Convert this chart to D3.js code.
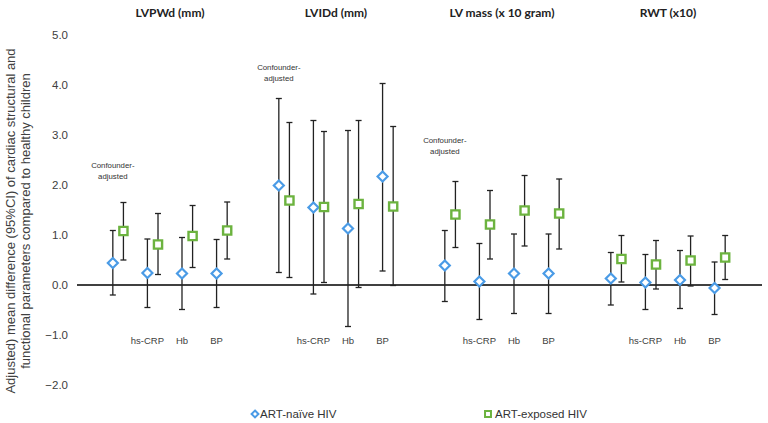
<!DOCTYPE html>
<html><head><meta charset="utf-8">
<script src="https://cdn.jsdelivr.net/npm/d3@7"></script>
<style>body{margin:0;background:#fff}svg{display:block}</style>
</head><body>
<svg id="chart" width="768" height="423"></svg>
<script>
const groups = ["LVPWd (mm)", "LVIDd (mm)", "LV mass (x 10 gram)", "RWT (x10)"];
const categories = ["Confounder-adjusted", "hs-CRP", "Hb", "BP"];
const seriesNames = ["ART-naïve HIV", "ART-exposed HIV"];
const yTicks = [-2, -1, 0, 1, 2, 3, 4, 5];

// ART-naive HIV: mean, lower, upper (per group, per category)
const naiveMean  = [[0.44, 0.24, 0.23, 0.23], [1.99, 1.55, 1.13, 2.17], [0.39, 0.07, 0.23, 0.23], [0.13, 0.05, 0.10, -0.06]];
const naiveLow   = [[-0.20, -0.45, -0.49, -0.45], [0.25, -0.18, -0.83, 0.28], [-0.33, -0.69, -0.57, -0.57], [-0.40, -0.49, -0.47, -0.59]];
const naiveHigh  = [[1.09, 0.92, 0.95, 0.91], [3.73, 3.29, 3.09, 4.03], [1.09, 0.83, 1.02, 1.02], [0.65, 0.61, 0.69, 0.46]];
// ART-exposed HIV
const expMean    = [[1.08, 0.81, 0.98, 1.09], [1.69, 1.56, 1.62, 1.57], [1.41, 1.21, 1.49, 1.43], [0.52, 0.41, 0.49, 0.55]];
const expLow     = [[0.50, 0.21, 0.35, 0.52], [0.15, 0.05, -0.05, -0.01], [0.75, 0.52, 0.78, 0.72], [0.06, -0.08, -0.02, 0.11]];
const expHigh    = [[1.65, 1.43, 1.59, 1.66], [3.25, 3.07, 3.29, 3.17], [2.07, 1.89, 2.19, 2.12], [0.99, 0.89, 0.98, 0.99]];
// "Confounder-adjusted" annotation height (data units), groups 1-3
const annotY = [2.4, 4.36, 2.9];

const FONT = "'Liberation Sans', Arial, sans-serif";
const svg = d3.select("#chart");
const y = d3.scaleLinear().domain([-2, 5]).range([385, 35]);
const x0 = d3.scaleBand().domain(groups).range([87, 751]);
const xi = d3.scalePoint().domain(categories).range([0, x0.bandwidth()]).padding(0.9);
const xs = d3.scalePoint().domain(seriesNames).range([-5.3, 5.3]);

const rows = [];
groups.forEach((g, gi) => categories.forEach((c, ci) => {
  rows.push({g, c, s: seriesNames[0], m: naiveMean[gi][ci], lo: naiveLow[gi][ci], hi: naiveHigh[gi][ci]});
  rows.push({g, c, s: seriesNames[1], m: expMean[gi][ci], lo: expLow[gi][ci], hi: expHigh[gi][ci]});
}));
const px = d => x0(d.g) + xi(d.c) + xs(d.s);

// y axis labels
const yAxis = svg.append("g").attr("transform", "translate(77,0)")
  .call(d3.axisLeft(y).tickValues(yTicks).tickFormat(d3.format(".1f")).tickSize(0).tickPadding(9));
yAxis.select(".domain").remove();
yAxis.selectAll("text").attr("font-family", FONT).attr("font-size", 11.5).attr("fill", "#404040");

// zero line
svg.append("line").attr("x1", 77).attr("x2", 762).attr("y1", y(0)).attr("y2", y(0))
  .attr("stroke", "#000").attr("stroke-width", 1.3);

// y title
const yt = svg.append("text").attr("transform", `translate(0,${221}) rotate(-90)`)
  .attr("text-anchor", "middle").attr("font-family", FONT)
  .attr("font-size", 13).attr("fill", "#404040");
yt.append("tspan").attr("x", 0).attr("y", 15).text("Adjusted) mean difference (95%CI)  of cardiac structural and");
yt.append("tspan").attr("x", 0).attr("y", 30).text("functional parameters compared to healthy children");

// group titles
svg.selectAll(".gt").data(groups).enter().append("text")
  .attr("x", d => x0(d) + x0.bandwidth() / 2).attr("y", 17)
  .attr("text-anchor", "middle").attr("font-family", "Lato, sans-serif").attr("font-weight", "bold")
  .attr("font-size", 12).attr("fill", "#222").text(d => d);

// error bars
const eb = svg.append("g").attr("stroke", "#222").attr("stroke-width", 1.3);
rows.forEach(d => {
  const xx = px(d);
  eb.append("line").attr("x1", xx).attr("x2", xx).attr("y1", y(d.lo)).attr("y2", y(d.hi));
  eb.append("line").attr("x1", xx - 3).attr("x2", xx + 3).attr("y1", y(d.lo)).attr("y2", y(d.lo));
  eb.append("line").attr("x1", xx - 3).attr("x2", xx + 3).attr("y1", y(d.hi)).attr("y2", y(d.hi));
});

// markers
const diamond = d3.symbol().type(d3.symbolDiamond2).size(64);
const square = d3.symbol().type(d3.symbolSquare2).size(85);
rows.forEach(d => {
  const naive = d.s === seriesNames[0];
  svg.append("path").attr("d", naive ? diamond() : square())
    .attr("transform", `translate(${px(d)},${y(d.m)})`)
    .attr("fill", "#fff").attr("stroke", naive ? "#4a9be6" : "#6cb33f").attr("stroke-width", naive ? 2.2 : 2.4);
});

// category labels
groups.forEach(g => categories.slice(1).forEach(c => {
  svg.append("text").attr("x", x0(g) + xi(c) + xs(seriesNames[0])).attr("y", 344)
    .attr("text-anchor", "middle").attr("font-family", FONT)
    .attr("font-size", 9.5).attr("fill", "#404040").text(c);
}));

// confounder-adjusted annotations
annotY.forEach((v, gi) => {
  const t = svg.append("text").attr("text-anchor", "middle")
    .attr("font-family", FONT).attr("font-size", 7.8).attr("fill", "#333");
  const xx = x0(groups[gi]) + xi(categories[0]) + xs(seriesNames[0]);
  t.append("tspan").attr("x", xx).attr("y", y(v) + 3).text("Confounder-");
  t.append("tspan").attr("x", xx).attr("y", y(v) + 13.5).text("adjusted");
});

// legend
const legX = [255, 488];
seriesNames.forEach((s, i) => {
  const naive = i === 0;
  svg.append("path").attr("d", naive ? d3.symbol().type(d3.symbolDiamond2).size(30)() : d3.symbol().type(d3.symbolSquare2).size(45)())
    .attr("transform", `translate(${legX[i]},414)`)
    .attr("fill", "#fff").attr("stroke", naive ? "#4a9be6" : "#6cb33f").attr("stroke-width", 2);
  svg.append("text").attr("x", legX[i] + (naive ? 5 : 7)).attr("y", 418)
    .attr("font-family", FONT).attr("font-size", 11.5).attr("fill", "#333").text(s);
});
</script>
</body></html>
